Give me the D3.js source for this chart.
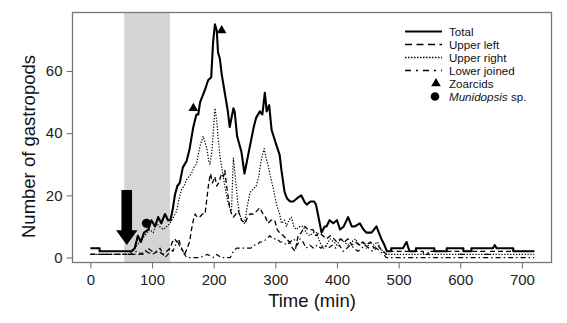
<!DOCTYPE html>
<html>
<head>
<meta charset="utf-8">
<script src="https://cdn.jsdelivr.net/npm/d3@7"></script>
<style>
  html, body { margin: 0; padding: 0; background: #fff; }
  svg { display: block; font-family: "Liberation Sans", Arial, sans-serif; }
</style>
</head>
<body>
<svg id="chart" width="567" height="323"></svg>
<script>
// Gastropod counts over time at the bait, by region of the camera field
// Each entry is [time (min), number of gastropods]
const total = [[0,3],[15,3],[15,2],[57,2],[62,2],[67,2],[72,3],[77,7],[82,5],[87,8],[94,9],[99,12],[105,10],[110,13],[115,11],[121,14],[126,12],[130,12],[134,16],[137,20],[141,23],[145,24],[150,29],[156,31],[161,35],[167,42],[172,46],[175,46],[178,50],[186,54],[191,57],[196,58],[199,69],[202,75],[205,73],[207,66],[210,64],[213,59],[218,53],[223,47],[226,42],[229,45],[232,48],[234,47],[238,39],[245,34],[250,27],[256,33],[261,38],[265,42],[269,45],[275,47],[279,46],[283,53],[286,47],[290,49],[294,41],[302,36],[307,33],[310,28],[315,21],[319,19],[324,18],[329,18],[335,19],[342,20],[347,18],[351,17],[357,18],[363,18],[366,17],[369,14],[372,11],[375,8],[380,10],[383,10],[388,12],[394,11],[400,12],[405,9],[411,10],[418,13],[424,10],[429,10],[437,11],[443,9],[448,8],[456,8],[460,9],[464,10],[468,8],[472,6],[477,4],[481,2],[488,2],[488,3],[507,3],[510,4],[513,5],[516,3],[518,2],[528,2],[528,3],[558,3],[558,2],[578,2],[578,3],[605,3],[605,2],[618,2],[618,3],[653,3],[656,4],[659,3],[686,3],[686,2],[720,2]];

const upperLeft = [[0,1],[57,1],[62,1],[70,1],[80,1],[90,2],[100,1],[110,2],[118,1],[124,2],[129,3],[133,5],[137,6],[140,5],[143,6],[148,3],[153,1],[157,3],[161,5],[164,9],[167,12],[170,14],[173,13],[177,13],[182,14],[186,14],[189,19],[192,24],[195,27],[198,24],[202,26],[205,23],[208,24],[213,27],[216,26],[218,28],[221,23],[224,19],[226,16],[229,14],[232,13],[236,14],[240,15],[245,12],[251,11],[255,13],[259,14],[264,14],[270,15],[275,16],[280,14],[284,13],[288,11],[293,12],[299,12],[303,9],[307,8],[313,7],[318,6],[323,5],[328,3],[332,2],[335,5],[337,7],[342,8],[348,10],[353,9],[358,9],[361,9],[366,7],[371,8],[377,7],[383,6],[389,7],[395,6],[400,5],[406,6],[412,5],[418,6],[424,4],[430,5],[436,4],[442,5],[448,4],[454,5],[460,3],[466,4],[470,3],[475,2],[480,1],[484,2],[540,2],[540,1],[548,1],[548,2],[600,2],[600,1],[606,1],[606,2],[640,2],[640,1],[648,1],[648,2],[720,2]];

const upperRight = [[0,1],[57,1],[62,1],[67,2],[72,3],[80,5],[88,7],[96,9],[102,8],[107,11],[112,10],[118,9],[124,10],[129,11],[135,13],[140,15],[144,19],[148,22],[152,23],[156,25],[160,26],[164,27],[168,29],[172,30],[175,33],[178,36],[183,39],[186,37],[189,35],[192,31],[194,30],[197,34],[200,42],[202,48],[205,44],[207,39],[210,33],[213,29],[218,23],[223,18],[226,16],[229,15],[231,27],[232,32],[234,28],[236,24],[239,18],[242,14],[246,12],[250,11],[255,17],[259,21],[264,22],[269,23],[273,26],[276,30],[279,33],[282,35],[285,32],[288,30],[291,27],[297,22],[302,17],[307,14],[310,11],[315,12],[318,10],[322,12],[326,13],[330,10],[334,9],[340,10],[345,10],[350,8],[356,7],[362,8],[367,8],[372,5],[378,3],[383,4],[389,6],[395,5],[400,4],[406,6],[412,5],[418,4],[424,5],[430,6],[436,4],[442,5],[448,3],[454,5],[460,4],[466,5],[470,3],[475,2],[480,1],[720,1]];

const lowerJoined = [[0,1],[57,1],[65,1],[75,2],[85,1],[93,3],[100,2],[107,2],[113,3],[118,1],[121,0],[126,1],[129,3],[134,2],[138,4],[142,5],[146,3],[150,2],[156,0],[165,0],[178,0],[190,1],[200,0],[205,1],[212,0],[227,0],[232,2],[237,3],[245,3],[253,3],[260,3],[266,4],[270,4],[275,5],[280,5],[286,6],[291,7],[296,6],[302,6],[308,5],[313,5],[318,4],[324,5],[330,6],[336,4],[340,6],[345,5],[350,3],[356,4],[362,3],[368,4],[374,3],[380,4],[386,3],[392,4],[398,3],[404,4],[410,2],[416,3],[422,4],[428,3],[434,2],[440,3],[446,4],[452,3],[458,2],[464,3],[470,2],[476,1],[480,0],[720,0]];

// Sightings of other fauna: [time (min), count level]
const zoarcids = [[167,48],[213,73]];
const munidopsis = [[91,11]];

// Bait-deployment period (grey band) and arrival arrow, in data units
const baitPeriod = [55, 129];
const arrow = { time: 59, top: 21.7, headBase: 8.8, tip: 4 };

const xTicks = [0, 100, 200, 300, 400, 500, 600, 700];
const yTicks = [0, 20, 40, 60];

const seriesNames = ["Total", "Upper left", "Upper right", "Lower joined"];

// ---- layout ----
const svg = d3.select("#chart");
const plotL = 72.5, plotR = 551.5, plotT = 12.5, plotB = 262.5;

const x = d3.scaleLinear().domain([-29, 748]).range([plotL, plotR]);
const y = d3.scaleLinear().domain([-1.6, 78.8]).range([plotB, plotT]);

// grey band
svg.append("rect")
  .attr("x", x(baitPeriod[0])).attr("y", plotT)
  .attr("width", x(baitPeriod[1]) - x(baitPeriod[0]))
  .attr("height", plotB - plotT)
  .attr("fill", "#d4d4d4");

const line = d3.line().x(d => x(d[0])).y(d => y(d[1]));

const styles = {
  "Total":        { data: total,       width: 2.1, dash: null },
  "Upper left":   { data: upperLeft,   width: 1.3, dash: "5,3" },
  "Upper right":  { data: upperRight,  width: 1.2, dash: "1.3,1.6" },
  "Lower joined": { data: lowerJoined, width: 1.2, dash: "5,3,1.5,3" }
};

const plot = svg.append("g");
// draw thin series first, total on top
["Lower joined", "Upper left", "Upper right", "Total"].forEach(name => {
  const s = styles[name];
  plot.append("path")
    .datum(s.data)
    .attr("d", line)
    .attr("fill", "none")
    .attr("stroke", "#000")
    .attr("stroke-width", s.width)
    .attr("stroke-linejoin", "round")
    .attr("stroke-dasharray", s.dash);
});

// markers
const tri = d3.symbol().type(d3.symbolTriangle).size(40);
plot.selectAll("path.zoarcid").data(zoarcids).join("path")
  .attr("class", "zoarcid")
  .attr("d", tri)
  .attr("transform", d => `translate(${x(d[0])},${y(d[1])})`)
  .attr("fill", "#000");

plot.selectAll("circle.munidopsis").data(munidopsis).join("circle")
  .attr("class", "munidopsis")
  .attr("cx", d => x(d[0])).attr("cy", d => y(d[1]))
  .attr("r", 4.6).attr("fill", "#000");

// arrival arrow
const ax = x(arrow.time);
const shaftHalf = 5.3, headHalf = 10.7;
svg.append("path")
  .attr("d", d3.line()([
    [ax - shaftHalf, y(arrow.top)],
    [ax + shaftHalf, y(arrow.top)],
    [ax + shaftHalf, y(arrow.headBase)],
    [ax + headHalf, y(arrow.headBase)],
    [ax, y(arrow.tip)],
    [ax - headHalf, y(arrow.headBase)],
    [ax - shaftHalf, y(arrow.headBase)]
  ]) + "Z")
  .attr("fill", "#000");

// frame
svg.append("rect")
  .attr("x", plotL).attr("y", plotT)
  .attr("width", plotR - plotL).attr("height", plotB - plotT)
  .attr("fill", "none").attr("stroke", "#777").attr("stroke-width", 1.3);

// axes
const xAxis = svg.append("g")
  .attr("transform", `translate(0,${plotB})`)
  .call(d3.axisBottom(x).tickValues(xTicks).tickSize(6).tickPadding(6).tickSizeOuter(0));
const yAxis = svg.append("g")
  .attr("transform", `translate(${plotL},0)`)
  .call(d3.axisLeft(y).tickValues(yTicks).tickSize(6).tickPadding(4).tickSizeOuter(0));

[xAxis, yAxis].forEach(g => {
  g.select(".domain").remove();
  g.selectAll("line").attr("stroke", "#777").attr("stroke-width", 1.1);
  g.selectAll("text")
    .attr("font-family", "Liberation Sans, Arial, sans-serif")
    .attr("font-size", 15).attr("fill", "#222");
});

// axis titles
svg.append("text")
  .attr("x", (plotL + plotR) / 2).attr("y", 307)
  .attr("text-anchor", "middle")
  .attr("font-size", 18.5).attr("fill", "#111")
  .text("Time (min)");

svg.append("text")
  .attr("transform", `translate(35,${(plotT + plotB) / 2 + 9}) rotate(-90)`)
  .attr("text-anchor", "middle")
  .attr("font-size", 18.5).attr("fill", "#111")
  .text("Number of gastropods");

// legend
const legend = svg.append("g").attr("font-size", 11.6).attr("fill", "#111");
const lx0 = 405, lx1 = 442, tx = 449, ly0 = 31.5, step = 13;
seriesNames.forEach((name, i) => {
  const yy = ly0 + i * step;
  legend.append("line")
    .attr("x1", lx0).attr("x2", lx1).attr("y1", yy).attr("y2", yy)
    .attr("stroke", "#000").attr("stroke-width", name === "Total" ? 2 : 1.6)
    .attr("stroke-dasharray", name === "Upper left" ? "7,4.5"
        : name === "Upper right" ? "1.5,1.5"
        : name === "Lower joined" ? "6,5,2,5" : null);
  legend.append("text").attr("x", tx).attr("y", yy).attr("dy", "0.35em").text(name);
});
const yz = ly0 + 4 * step, ym = ly0 + 5 * step;
legend.append("path").attr("d", tri).attr("transform", `translate(436,${yz})`).attr("fill", "#000");
legend.append("text").attr("x", tx).attr("y", yz).attr("dy", "0.35em").text("Zoarcids");
legend.append("circle").attr("cx", 435).attr("cy", ym).attr("r", 4.3).attr("fill", "#000");
const mt = legend.append("text").attr("x", tx).attr("y", ym).attr("dy", "0.35em");
mt.append("tspan").attr("font-style", "italic").text("Munidopsis");
mt.append("tspan").text(" sp.");
</script>
</body>
</html>
